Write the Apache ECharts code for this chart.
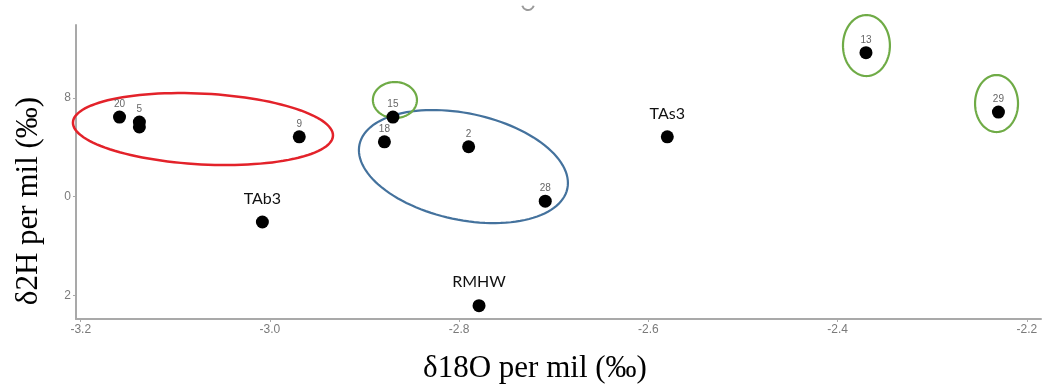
<!DOCTYPE html>
<html>
<head>
<meta charset="utf-8">
<script src="https://cdn.jsdelivr.net/npm/echarts@6/dist/echarts.min.js"></script>
<style>
html,body{margin:0;padding:0;background:#fff;}
#chart{width:1042px;height:385px;}
</style>
</head>
<body>
<div id="chart"></div>
<script>
// Numbered samples
var sampleLabels = ['20', '5', '', '9', '15', '18', '2', '28', '13', '29'];
var sampleD18O  = [-3.159, -3.138, -3.138, -2.969, -2.870, -2.879, -2.790, -2.709, -2.370, -2.230];
var sampleD2H   = [-38.39, -38.49, -38.59, -38.79, -38.39, -38.89, -38.99, -40.09, -37.09, -38.29];

// Reference waters
var refLabels = ['TAb3', 'RMHW', 'TAs3'];
var refD18O   = [-3.008, -2.779, -2.580];
var refD2H    = [-40.51, -42.20, -38.79];

// Axis ticks
var xTickValues = [-3.2, -3.0, -2.8, -2.6, -2.4, -2.2];
var yTickValues = [-38, -40, -42];
var yTickLabels = ['8', '0', '2'];

// Group ellipses (data units): centre x, centre y, radius x, radius y, rotation deg
var ellipseCX  = [-3.0708, -2.7955, -2.8679, -2.3695, -2.2320];
var ellipseCY  = [-38.632, -39.390, -38.046, -36.945, -38.117];
var ellipseRX  = [0.1376, 0.1123, 0.0233, 0.0248, 0.0227];
var ellipseRY  = [0.715, 1.075, 0.364, 0.616, 0.576];
var ellipseRot = [3, 12, 0, 0, 0];
var ellipseColors = ['#e3222a', '#44729d', '#6fab46', '#6fab46', '#6fab46'];

var sampleData = sampleD18O.map(function (x, i) {
  return { value: [x, sampleD2H[i]], name: sampleLabels[i] };
});
var refData = refD18O.map(function (x, i) {
  return { value: [x, refD2H[i]], name: refLabels[i] };
});
var ellipseData = ellipseCX.map(function (x, i) {
  return [x, ellipseCY[i], ellipseRX[i], ellipseRY[i], ellipseRot[i], i];
});

var chart = echarts.init(document.getElementById('chart'), null, { renderer: 'canvas' });

var option = {
  animation: false,
  backgroundColor: '#ffffff',
  grid: { left: 76, right: 1, top: 25, bottom: 66, containLabel: false },
  xAxis: {
    type: 'value',
    min: -3.205,
    max: -2.185,
    axisLine: { show: true, onZero: false, lineStyle: { color: '#a9a9a9', width: 2 } },
    axisTick: { show: true, customValues: xTickValues, length: 3, lineStyle: { color: '#a9a9a9' } },
    axisLabel: {
      customValues: xTickValues,
      formatter: function (v) { return v.toFixed(1); },
      color: '#7a7a7a', fontFamily: 'Liberation Sans', fontSize: 12, margin: 5
    },
    splitLine: { show: false }
  },
  yAxis: {
    type: 'value',
    min: -42.47,
    max: -36.53,
    axisLine: { show: true, onZero: false, lineStyle: { color: '#a9a9a9', width: 2 } },
    axisTick: { show: true, customValues: yTickValues, length: 3, lineStyle: { color: '#a9a9a9' } },
    axisLabel: {
      customValues: yTickValues,
      formatter: function (v) {
        var k = yTickValues.indexOf(Math.round(v));
        return k >= 0 ? yTickLabels[k] : '';
      },
      color: '#7a7a7a', fontFamily: 'Liberation Sans', fontSize: 12, margin: 5
    },
    splitLine: { show: false }
  },
  graphic: [
    {
      type: 'text', x: 535, y: 353,
      style: { text: 'δ18O per mil (‰)', font: '31px "Liberation Serif"', fill: '#000', textAlign: 'center', textVerticalAlign: 'top' }
    },
    {
      type: 'text', x: 13, y: 201, rotation: Math.PI / 2,
      style: { text: 'δ2H per mil (‰)', font: '31px "Liberation Serif"', fill: '#000', textAlign: 'center', textVerticalAlign: 'top' }
    },
    {
      type: 'arc', shape: { cx: 528, cy: 4, r: 6, startAngle: 0.3, endAngle: Math.PI - 0.3 },
      style: { stroke: '#9a9a9a', lineWidth: 2, fill: null }
    }
  ],
  series: [
    {
      type: 'custom',
      coordinateSystem: 'cartesian2d',
      clip: false,
      z: 1,
      encode: { x: 0, y: 1 },
      data: ellipseData,
      renderItem: function (params, api) {
        var c = api.coord([api.value(0), api.value(1)]);
        var rx = api.size([api.value(2), 0])[0];
        var ry = api.size([0, api.value(3)])[1];
        var rot = api.value(4) * Math.PI / 180;
        var idx = api.value(5);
        var pts = [];
        for (var k = 0; k < 120; k++) {
          var t = k / 120 * Math.PI * 2;
          var ex = rx * Math.cos(t), ey = ry * Math.sin(t);
          pts.push([c[0] + ex * Math.cos(rot) - ey * Math.sin(rot),
                    c[1] + ex * Math.sin(rot) + ey * Math.cos(rot)]);
        }
        return {
          type: 'polygon',
          shape: { points: pts },
          style: { fill: null, stroke: ellipseColors[idx], lineWidth: idx === 0 ? 2.5 : 2.2 }
        };
      }
    },
    {
      type: 'scatter',
      z: 3,
      symbol: 'circle',
      symbolSize: 13,
      itemStyle: { color: '#000', opacity: 1 },
      label: {
        show: true, position: 'top', distance: 1,
        formatter: '{b}', color: '#666', fontFamily: 'Liberation Sans', fontSize: 10
      },
      data: sampleData
    },
    {
      type: 'scatter',
      z: 3,
      symbol: 'circle',
      symbolSize: 13,
      itemStyle: { color: '#000', opacity: 1 },
      label: {
        show: true, position: 'top', distance: 9,
        formatter: '{b}', color: '#111', fontFamily: 'Lato', fontSize: 16
      },
      data: refData
    }
  ]
};
chart.setOption(option);
</script>
</body>
</html>
